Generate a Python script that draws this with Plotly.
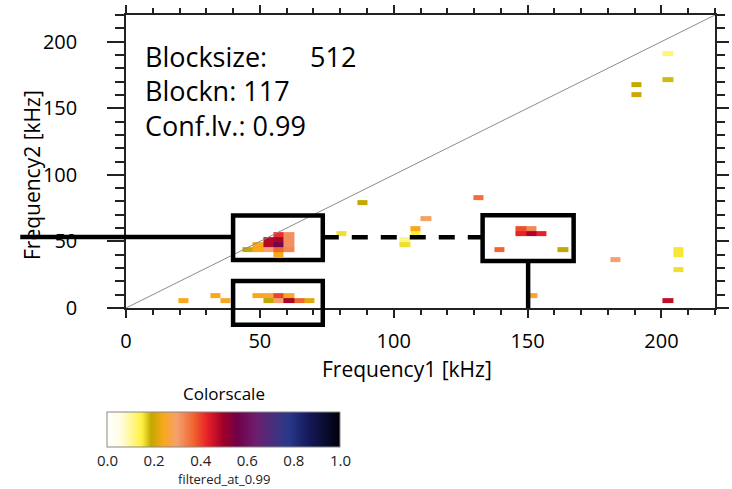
import plotly.graph_objects as go

# ---------------- data ----------------
# cell centres in kHz and the coherence value of each cell
f1_khz = [45.45, 49.3, 49.3, 53.15, 53.15, 53.15, 57.0, 57.0, 57.0, 57.0, 57.0,
          60.85, 60.85, 60.85, 60.85,
          21.5, 33.3, 37.15, 49.3, 53.15, 57.0, 60.85, 53.15, 57.0, 60.85, 64.7, 68.55,
          80.5, 88.4, 104.2, 104.2, 108.05, 108.05, 112.0, 131.6, 139.5,
          147.45, 151.3, 147.45, 151.3, 155.15, 163.2, 151.6, 182.8,
          190.6, 190.6, 202.4, 202.4, 206.4, 206.4, 206.4, 202.4]
f2_khz = [44.0, 47.8, 44.0, 51.6, 47.8, 44.0, 55.4, 51.6, 47.8, 44.0, 40.2,
          55.4, 51.6, 47.8, 44.0,
          5.8, 9.6, 5.8, 9.6, 9.6, 9.6, 9.6, 5.8, 5.8, 5.8, 5.8, 5.8,
          55.9, 78.9, 51.6, 47.8, 59.7, 55.9, 67.4, 83.0, 44.2,
          59.7, 59.7, 55.9, 55.9, 55.9, 44.2, 9.6, 36.5,
          168.0, 160.1, 191.0, 171.8, 44.2, 40.4, 28.9, 5.7]
coherence = [0.19, 0.24, 0.24, 0.48, 0.48, 0.30, 0.42, 0.49, 0.57, 0.37, 0.24,
             0.32, 0.32, 0.32, 0.33,
             0.24, 0.24, 0.25, 0.24, 0.26, 0.40, 0.25, 0.19, 0.30, 0.49, 0.37, 0.22,
             0.16, 0.19, 0.11, 0.16, 0.24, 0.15, 0.29, 0.36, 0.37,
             0.39, 0.33, 0.43, 0.49, 0.43, 0.19, 0.25, 0.30,
             0.19, 0.20, 0.12, 0.18, 0.155, 0.155, 0.16, 0.47]
cell_w = 3.85   # frequency bin width (kHz)
cell_h = 3.8

axis_ticks = [0, 50, 100, 150, 200]
cbar_ticks = [0.0, 0.2, 0.4, 0.6, 0.8, 1.0]
info_labels = ["Blocksize:", "Blockn: 117", "Conf.lv.: 0.99"]
blocksize_value = "512"

# regions of interest drawn over the map (kHz): f1 lo, f1 hi, f2 lo, f2 hi
roi_boxes = [(40.0, 73.5, 36.0, 69.5), (40.0, 73.5, -12.5, 20.3), (133.2, 167.2, 35.2, 69.7)]
link_solid = (-39.5, 40.0, 53.3)
link_dashed = (73.5, 133.2, 53.2)
link_vertical = (150.2, 35.2, 0.0)

X_RANGE = [0, 220]
Y_RANGE = [0, 220]

# ---------------- build heatmap grid from the cells ----------------
def r3(v):
    return round(v, 3)

xe = sorted({r3(c - cell_w / 2) for c in f1_khz} | {r3(c + cell_w / 2) for c in f1_khz})
ye = sorted({r3(c - cell_h / 2) for c in f2_khz} | {r3(c + cell_h / 2) for c in f2_khz})
z = [[None] * (len(xe) - 1) for _ in range(len(ye) - 1)]
for cx, cy, v in zip(f1_khz, f2_khz, coherence):
    i0, i1 = xe.index(r3(cx - cell_w / 2)), xe.index(r3(cx + cell_w / 2))
    j0, j1 = ye.index(r3(cy - cell_h / 2)), ye.index(r3(cy + cell_h / 2))
    for j in range(j0, j1):
        for i in range(i0, i1):
            z[j][i] = v

colorscale = [
    [0.00, '#ffffff'], [0.06, '#fffde0'], [0.11, '#fff68a'], [0.15, '#fff040'],
    [0.19, '#c2a800'], [0.24, '#f8a818'], [0.30, '#f4a070'], [0.37, '#f06630'],
    [0.43, '#e82028'], [0.50, '#a00028'], [0.56, '#70004a'], [0.64, '#6e1e6e'],
    [0.72, '#44307e'], [0.78, '#283888'], [0.87, '#141858'], [1.00, '#00000a'],
]

FONT = "Open Sans"
PL, PR, PT, PB = 126, 17, 15, 181
PW, PH = 732 - PL - PR, 489 - PT - PB

def px_x(p):   # page pixel -> paper fraction
    return (p - PL) / PW

def px_y(p):
    return (489 - PB - p) / PH

fig = go.Figure()
fig.add_trace(go.Heatmap(
    x=xe, y=ye, z=z, zmin=0, zmax=1, colorscale=colorscale, hoverongaps=False,
    colorbar=dict(
        orientation='h', x=px_x(224), xanchor='center', y=px_y(389), yanchor='top',
        len=233, lenmode='pixels', thickness=35, thicknessmode='pixels',
        xpad=0, ypad=0, outlinecolor='#888888', outlinewidth=1,
        title=dict(text='Colorscale', side='top', font=dict(size=17, color='black', family=FONT)),
        tickvals=cbar_ticks, ticktext=[f"{t:.1f}" for t in cbar_ticks], ticks='',
        tickfont=dict(size=15, color='#222', family=FONT),
    ),
))
# diagonal f1 = f2 reference line (on the mirrored right axis)
fig.add_trace(go.Scatter(x=X_RANGE, y=Y_RANGE, mode='lines', yaxis='y2',
                         line=dict(color='#8c8c8c', width=1), showlegend=False, hoverinfo='skip'))

def fx(v):
    return (v - X_RANGE[0]) / (X_RANGE[1] - X_RANGE[0])

def fy(v):
    return (v - Y_RANGE[0]) / (Y_RANGE[1] - Y_RANGE[0])

LW = 4.5
shapes = []
for x0, x1, y0, y1 in roi_boxes:
    shapes.append(dict(type='rect', xref='x domain', yref='y domain',
                       x0=fx(x0), x1=fx(x1), y0=fy(y0), y1=fy(y1),
                       line=dict(color='black', width=LW), layer='above'))
shapes.append(dict(type='line', xref='x domain', yref='y domain',
                   x0=fx(link_solid[0]), x1=fx(link_solid[1]), y0=fy(link_solid[2]), y1=fy(link_solid[2]),
                   line=dict(color='black', width=LW)))
shapes.append(dict(type='line', xref='x domain', yref='y domain',
                   x0=fx(link_dashed[0]), x1=fx(link_dashed[1]), y0=fy(link_dashed[2]), y1=fy(link_dashed[2]),
                   line=dict(color='black', width=LW, dash='16px,13px')))
shapes.append(dict(type='line', xref='x domain', yref='y domain',
                   x0=fx(link_vertical[0]), x1=fx(link_vertical[0]), y0=fy(link_vertical[1]), y1=fy(link_vertical[2]),
                   line=dict(color='black', width=LW)))

annotations = []
info_y = [56.5, 90, 125]
for txt, py in zip(info_labels, info_y):
    annotations.append(dict(text=txt, xref='paper', yref='paper', x=px_x(143), y=px_y(py),
                            xanchor='left', yanchor='middle', showarrow=False,
                            font=dict(size=27, color='black', family=FONT)))
annotations.append(dict(text=blocksize_value, xref='paper', yref='paper', x=px_x(308), y=px_y(56.5),
                        xanchor='left', yanchor='middle', showarrow=False,
                        font=dict(size=27, color='black', family=FONT)))
annotations.append(dict(text='Frequency1 [kHz]', xref='paper', yref='paper', x=px_x(407), y=px_y(369),
                        xanchor='center', yanchor='middle', showarrow=False,
                        font=dict(size=21, color='black', family=FONT)))
annotations.append(dict(text='Frequency2 [kHz]', xref='paper', yref='paper', x=px_x(32), y=px_y(175),
                        xanchor='center', yanchor='middle', textangle=-90, showarrow=False,
                        font=dict(size=21, color='black', family=FONT)))
annotations.append(dict(text='filtered_at_0.99', xref='paper', yref='paper', x=px_x(224), y=px_y(479),
                        xanchor='center', yanchor='middle', showarrow=False,
                        font=dict(size=13, color='#222', family=FONT)))

axis_common = dict(showline=True, linecolor='#222', linewidth=1.5, tickcolor='#222', tickwidth=1.5,
                   zeroline=False, showgrid=False, tickfont=dict(size=20, color='black', family=FONT))

fig.update_layout(
    width=732, height=489, margin=dict(l=PL, r=PR, t=PT, b=PB, autoexpand=False),
    paper_bgcolor='white', plot_bgcolor='white', showlegend=False,
    font=dict(family=FONT),
    xaxis=dict(range=X_RANGE, tickvals=axis_ticks, ticks='outside', ticklen=8,
               minor=dict(dtick=10, tick0=0, ticks='outside', ticklen=5, tickcolor='#222', tickwidth=1.5),
               mirror='ticks', ticklabelstandoff=6, **axis_common),
    yaxis=dict(range=Y_RANGE, tickvals=axis_ticks, ticks='outside', ticklen=17,
               minor=dict(dtick=10, tick0=0, ticks='outside', ticklen=9, tickcolor='#222', tickwidth=1.5),
               ticklabelstandoff=26, **axis_common),
    yaxis2=dict(range=Y_RANGE, overlaying='y', side='right', tickvals=axis_ticks, ticks='outside', ticklen=12,
                minor=dict(dtick=10, tick0=0, ticks='outside', ticklen=8, tickcolor='#222', tickwidth=1.5),
                showticklabels=False, showline=True, linecolor='#222', linewidth=1.5, tickcolor='#222',
                tickwidth=1.5, zeroline=False, showgrid=False),
    shapes=shapes, annotations=annotations,
)

fig.write_html("out.html")
